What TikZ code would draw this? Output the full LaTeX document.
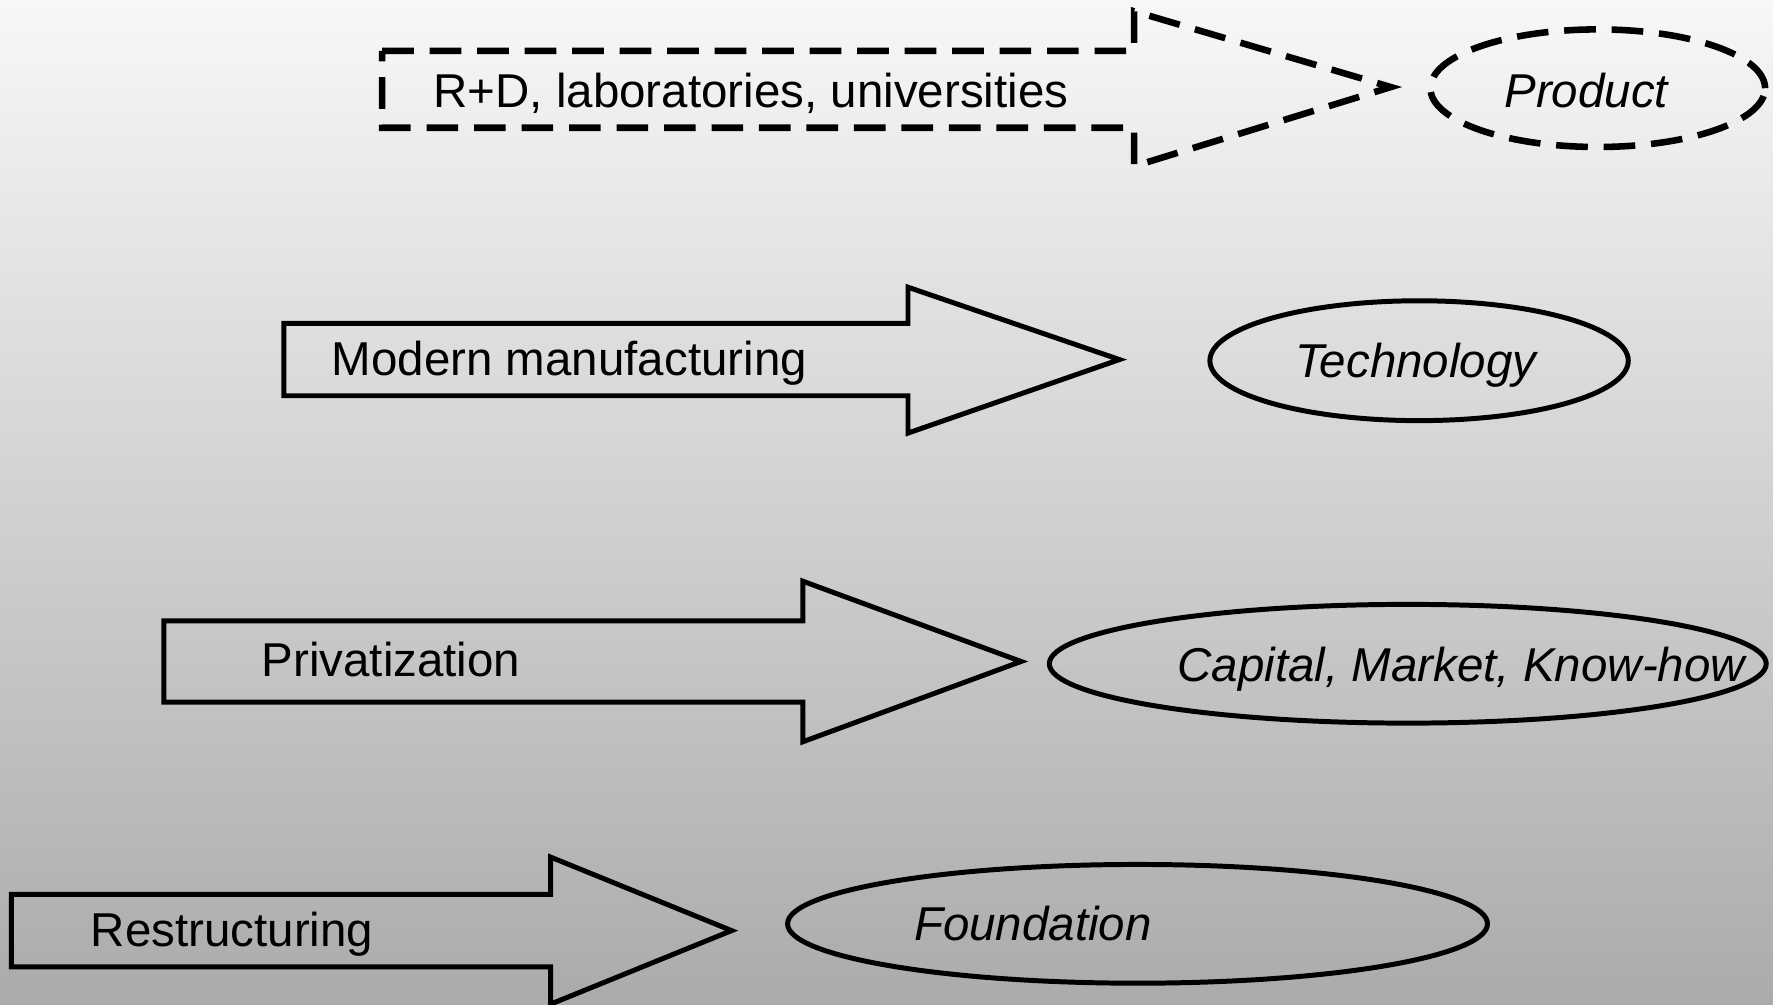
\documentclass[tikz,border=0pt]{standalone}
\usepackage{fontspec}
\setmainfont{Liberation Sans}
\usetikzlibrary{shapes.geometric}
\begin{document}
\begin{tikzpicture}[x=0.5pt,y=-0.5pt,
  shp/.style={draw=black,line width=2.2pt,line join=miter},
  dsh/.style={shp,line width=2.9pt,dash pattern=on 14pt off 7pt},
  ell/.style={ellipse,draw=black,line width=2.2pt,inner sep=0pt},
  lbl/.style={anchor=base west,inner sep=0pt,font=\fontsize{21}{25}\selectfont},
  ilbl/.style={lbl,font=\fontsize{21}{25}\selectfont\itshape}]
\shade[top color=white!97!black,bottom color=black!33] (0,0) rectangle (1568,888);
\useasboundingbox (0,0) rectangle (1568,888);
% dashed arrow
\draw[dsh] (338,45) -- (1003,45) -- (1003,10) -- (1230,77) -- (1003,147) -- (1003,113) -- (338,113) -- cycle;
\node[lbl] (rd) at (383,95) {R+D, laboratories, universities};
\node[ell,dsh,minimum width=148pt,minimum height=52pt] (product) at (1413,78) {};
\node[ilbl] (productt) at (1330,95) {Product};
% modern manufacturing
\draw[shp] (251,286) -- (803,286) -- (803,254) -- (990,318) -- (803,383) -- (803,350) -- (251,350) -- cycle;
\node[lbl] (mm) at (293,332) {Modern manufacturing};
\node[ell,minimum width=185pt,minimum height=53pt] (tech) at (1255,319) {};
\node[ilbl] (techt) at (1145,334) {Technology};
% privatization
\draw[shp] (145,549) -- (710,549) -- (710,514) -- (903,585) -- (710,656) -- (710,621) -- (145,621) -- cycle;
\node[lbl] (priv) at (231,598) {Privatization};
\node[ell,minimum width=317pt,minimum height=52.5pt] (cap) at (1245,587) {};
\node[ilbl] (capt) at (1041,603) {Capital, Market, Know-how};
% restructuring
\draw[shp] (10,791) -- (487,791) -- (487,758) -- (647,823) -- (487,888) -- (487,855) -- (10,855) -- cycle;
\node[lbl] (rest) at (80,837) {Restructuring};
\node[ell,minimum width=309.5pt,minimum height=52.5pt] (found) at (1006,817) {};
\node[ilbl] (foundt) at (808,832) {Foundation};
\end{tikzpicture}
\end{document}
